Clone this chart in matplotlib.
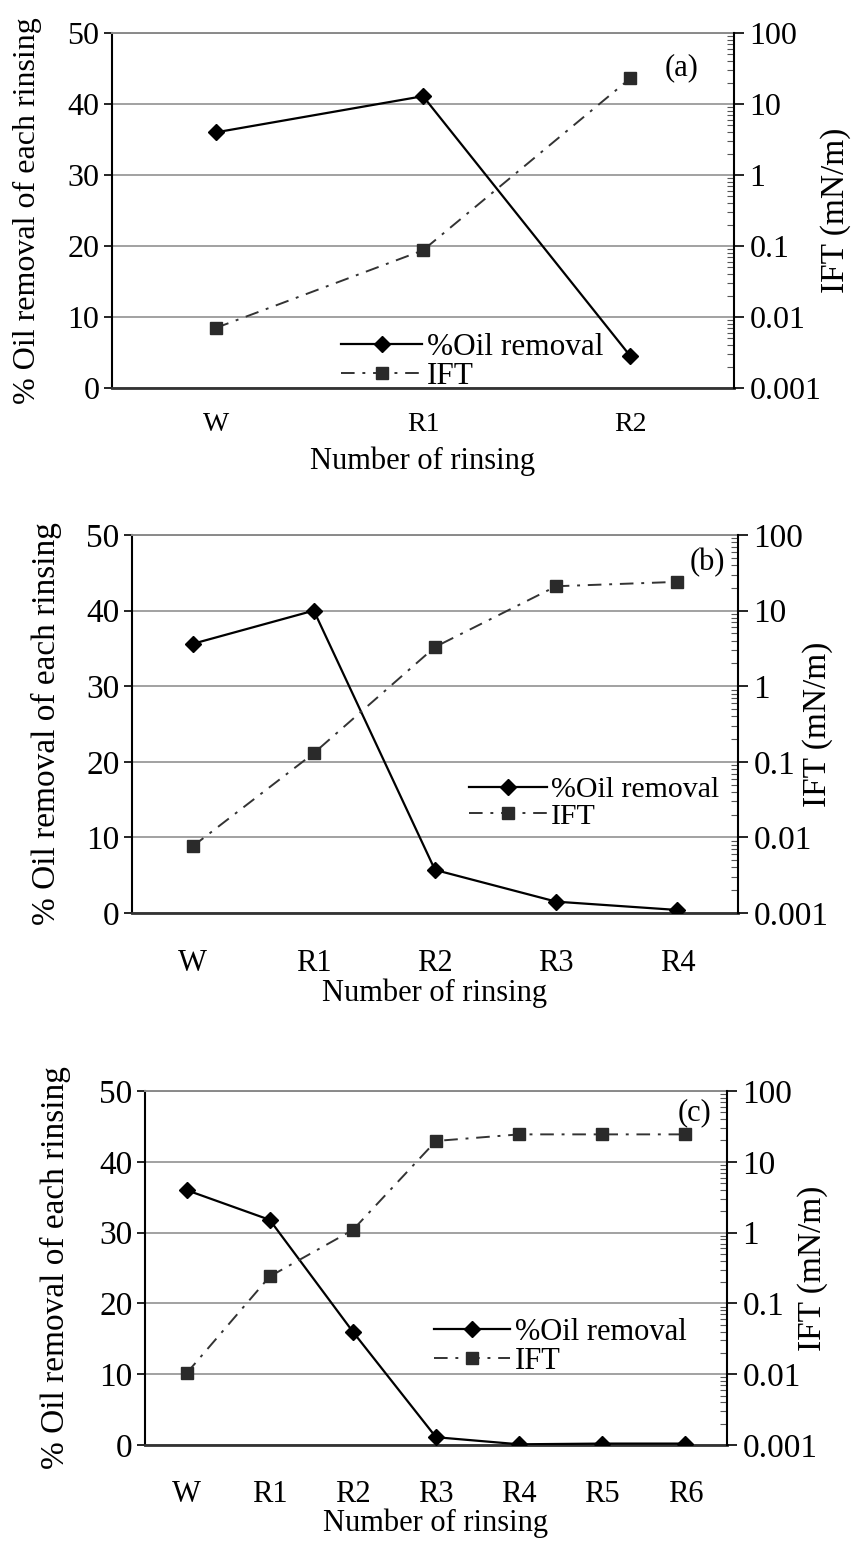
import matplotlib
matplotlib.use('Agg')
import matplotlib.pyplot as plt
from matplotlib.ticker import FixedLocator, FixedFormatter, LogLocator, NullFormatter
from matplotlib.lines import Line2D

plt.rcParams['font.family'] = ['Liberation Serif', 'DejaVu Serif']

W_PX, H_PX = 854, 1545

# ---- data ----
# panel (a)
a_steps = ['W', 'R1', 'R2']
a_oil = [36.0, 41.1, 4.5]
a_ift = [0.007, 0.087, 23.0]

# panel (b)
b_steps = ['W', 'R1', 'R2', 'R3', 'R4']
b_oil = [35.6, 40.0, 5.7, 1.5, 0.4]
b_ift = [0.0076, 0.13, 3.3, 21.0, 24.0]

# panel (c)
c_steps = ['W', 'R1', 'R2', 'R3', 'R4', 'R5', 'R6']
c_oil = [36.0, 31.8, 16.0, 1.1, 0.1, 0.2, 0.2]
c_ift = [0.0103, 0.24, 1.09, 19.7, 24.4, 24.4, 24.4]

left_ticks = [0, 10, 20, 30, 40, 50]
right_ticks = [0.001, 0.01, 0.1, 1, 10, 100]
right_labels = ['0.001', '0.01', '0.1', '1', '10', '100']


def px_box(x0, y0, x1, y1):
    """Axes rectangle from pixel corners (top-left origin)."""
    return [x0 / W_PX, 1 - y1 / H_PX, (x1 - x0) / W_PX, (y1 - y0) / H_PX]


def draw_panel(fig, corners, steps, oil, ift, tag, tag_px, legend_px,
               ylab_x, y2lab_x, xpad, xlabpad, xtick_size, ytick_size,
               ylab_size, leg_size):
    x0, y0, x1, y1 = corners
    wpx, hpx = x1 - x0, y1 - y0
    ax = fig.add_axes(px_box(x0, y0, x1, y1))
    ax2 = ax.twinx()

    xs = list(range(len(steps)))

    # left axis: % oil removal
    ax.plot(xs, oil, color='black', lw=1.6, marker='D', markersize=8,
            markerfacecolor='black', zorder=3)
    ax.set_xlim(-0.5, len(steps) - 0.5)
    ax.set_ylim(0, 50)
    ax.yaxis.set_major_locator(FixedLocator(left_ticks))
    ax.yaxis.grid(True, color='#9a9a9a', lw=1.3)
    ax.set_axisbelow(True)
    ax.set_xticks(xs)
    ax.set_xticklabels(steps)
    ax.tick_params(axis='x', length=0, pad=xpad, labelsize=xtick_size)
    ax.tick_params(axis='y', direction='out', length=6, width=1.2,
                   pad=3, labelsize=ytick_size)
    ax.spines['top'].set_color('#8a8a8a')
    ax.spines['top'].set_linewidth(1.4)
    ax.spines['right'].set_visible(False)
    ax.spines['bottom'].set_color('#333333')
    ax.spines['bottom'].set_linewidth(2.0)
    ax.spines['left'].set_linewidth(1.5)
    ax.set_xlabel('Number of rinsing', fontsize=22, labelpad=xlabpad)
    ax.set_ylabel('% Oil removal of each rinsing', fontsize=ylab_size)
    ax.yaxis.label.set_verticalalignment('center')
    ax.yaxis.set_label_coords((ylab_x - x0) / wpx, 0.5)

    # right axis: IFT, log scale
    ax2.plot(xs, ift, color='#333333', lw=1.4, ls=(0, (7, 4, 1.5, 4)),
             marker='s', markersize=8, markerfacecolor='#2a2a2a',
             markeredgecolor='#2a2a2a', zorder=3)
    ax2.set_yscale('log')
    ax2.set_ylim(0.001, 100)
    ax2.yaxis.set_major_locator(FixedLocator(right_ticks))
    ax2.yaxis.set_major_formatter(FixedFormatter(right_labels))
    ax2.yaxis.set_minor_locator(LogLocator(base=10, subs=range(2, 10)))
    ax2.yaxis.set_minor_formatter(NullFormatter())
    ax2.tick_params(axis='y', which='major', direction='out', length=7,
                    width=1.2, pad=4, labelsize=ytick_size)
    ax2.tick_params(axis='y', which='minor', direction='in', length=5,
                    width=0.8, color='#555555')
    for side in ('top', 'left', 'bottom'):
        ax2.spines[side].set_visible(False)
    ax2.spines['right'].set_linewidth(1.5)
    ax2.set_ylabel('IFT (mN/m)', fontsize=24)
    ax2.yaxis.label.set_verticalalignment('center')
    ax2.yaxis.set_label_coords((y2lab_x - x0) / wpx, 0.5)

    # panel tag
    ax2.text((tag_px[0] - x0) / wpx, (y1 - tag_px[1]) / hpx, tag,
             transform=ax2.transAxes, ha='center', va='center', fontsize=22)

    # legend
    handles = [
        Line2D([], [], color='black', lw=1.6, marker='D', markersize=8),
        Line2D([], [], color='#333333', lw=1.4, ls=(0, (7, 4, 1.5, 4)),
               marker='s', markersize=8, markerfacecolor='#2a2a2a',
               markeredgecolor='#2a2a2a'),
    ]
    hx, hy, hlen = legend_px
    ax2.legend(handles, ['%Oil removal', 'IFT'], loc='center left',
               bbox_to_anchor=((hx - x0) / wpx, (y1 - hy) / hpx),
               frameon=False, fontsize=leg_size, handlelength=hlen,
               handletextpad=0.15, borderpad=0, borderaxespad=0,
               labelspacing=0.0)
    return ax, ax2


fig = plt.figure(figsize=(W_PX / 100, H_PX / 100), dpi=100)

draw_panel(fig, (112, 33, 734, 388), a_steps, a_oil, a_ift, '(a)',
           (682, 68), (341, 362, 2.6), 27, 836, 17, 7, 20, 23, 23, 22.5)
draw_panel(fig, (132, 535, 738, 913), b_steps, b_oil, b_ift, '(b)',
           (707, 563), (469, 803, 2.6), 46, 818, 26, 0, 22, 24, 24, 21.5)
draw_panel(fig, (145, 1091, 727, 1445), c_steps, c_oil, c_ift, '(c)',
           (695, 1113), (434, 1347, 2.5), 55, 813, 25, 0, 22, 24, 24, 22)

fig.savefig('out.png', dpi=100)
